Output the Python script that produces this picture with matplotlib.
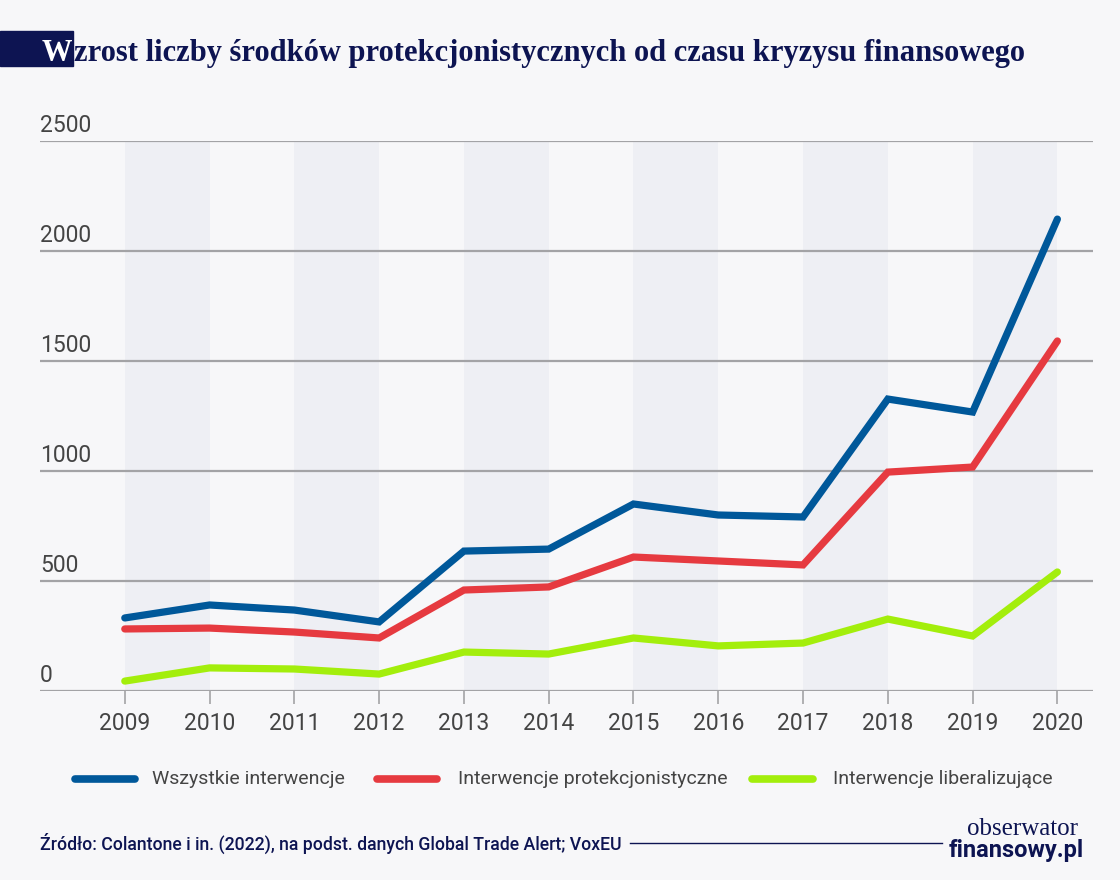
import matplotlib
matplotlib.use("Agg")
import matplotlib.pyplot as plt
from matplotlib.patches import Rectangle
from matplotlib.lines import Line2D

years = [2009, 2010, 2011, 2012, 2013, 2014, 2015, 2016, 2017, 2018, 2019, 2020]
all_interventions = [332, 391, 368, 314, 636, 645, 850, 800, 791, 1327, 1268, 2145]
protectionist = [282, 286, 268, 241, 459, 473, 609, 591, 573, 995, 1018, 1591]
liberalizing = [45, 105, 100, 77, 177, 168, 241, 205, 218, 327, 250, 541]
series_names = ["Wszystkie interwencje", "Interwencje protekcjonistyczne", "Interwencje liberalizujące"]
y_ticks = [0, 500, 1000, 1500, 2000, 2500]

title_first = "W"
title_rest = "zrost liczby środków protekcjonistycznych od czasu kryzysu finansowego"
source = "Źródło: Colantone i in. (2022), na podst. danych Global Trade Alert; VoxEU"

BG = "#f7f7f9"
BAND = "#eeeff4"
NAVY = "#0d1452"
GRID = "#a3a3a6"
TXT = "#444444"
colors = ["#00589a", "#e63a40", "#a3ee0c"]

W, H = 1120, 880
fig = plt.figure(figsize=(W / 100, H / 100), dpi=100, facecolor=BG)

def fx(px):
    return px / W

def fy(py):
    return 1 - py / H

ax = fig.add_axes([fx(40), fy(691), fx(1093) - fx(40), fy(141) - fy(691)])
ax.set_facecolor(BG)
ax.set_xlim(2008.0, 2020.42)
ax.set_ylim(0, 2500)

# alternating bands
for i in range(0, len(years) - 1, 2):
    ax.axvspan(years[i], years[i + 1], color=BAND, lw=0, zorder=0)

for t in y_ticks:
    ax.axhline(t, color=GRID, lw=1.6, zorder=1)
    ax.text(2008.0, t + 18, str(t), ha="left", va="bottom", fontsize=16.5,
            color=TXT, family="Roboto", zorder=3)

for vals, c in zip([all_interventions, protectionist, liberalizing], colors):
    ax.plot(years, vals, color=c, lw=5.2, solid_capstyle="round",
            solid_joinstyle="miter", zorder=4)

for s in ax.spines.values():
    s.set_visible(False)
ax.set_yticks([])
ax.set_xticks(years)
ax.set_xticklabels([str(y) for y in years], fontsize=16.5, color=TXT, family="Roboto")
ax.tick_params(axis="x", length=9, width=1.2, color=GRID, pad=6)

# title
tW = fig.text(fx(42), fy(61), title_first, color="white", fontsize=22, fontweight="bold",
              family="Liberation Serif", ha="left", va="baseline", zorder=3)
fig.canvas.draw()
r = fig.canvas.get_renderer()
bb = tW.get_window_extent(renderer=r)
fig.patches.append(Rectangle((0, fy(66)), bb.x1 / W, fy(31) - fy(66), transform=fig.transFigure,
                             color=NAVY, zorder=0))
fig.text(bb.x1 / W + fx(1), fy(61), title_rest, color=NAVY, fontsize=22, fontweight="bold",
         family="Liberation Serif", ha="left", va="baseline")

# legend
leg_items = [(75, 135, 152), (377, 437, 458), (752, 813, 833)]
for (x0, x1, xt), c, name in zip(leg_items, colors, series_names):
    fig.add_artist(Line2D([fx(x0), fx(x1)], [fy(779), fy(779)], color=c, lw=5.5,
                          solid_capstyle="round", transform=fig.transFigure))
    fig.text(fx(xt), fy(779), name, fontsize=14, color=TXT, family="Roboto",
             ha="left", va="center")

# source
fig.text(fx(40), fy(843), source, fontsize=12.7, color=NAVY, family="Roboto",
         ha="left", va="center", fontweight="medium")
fig.add_artist(Line2D([fx(630), fx(942)], [fy(843), fy(843)], color=NAVY, lw=1.0,
                      transform=fig.transFigure))
fig.text(fx(1078), fy(829), "obserwator", fontsize=18, color=NAVY, family="Liberation Serif",
         ha="right", va="center")
fig.text(fx(1084), fy(850), "finansowy.pl", fontsize=17, color=NAVY, family="Roboto",
         fontweight="bold", ha="right", va="center")

fig.savefig("out.png", dpi=100, facecolor=BG)
